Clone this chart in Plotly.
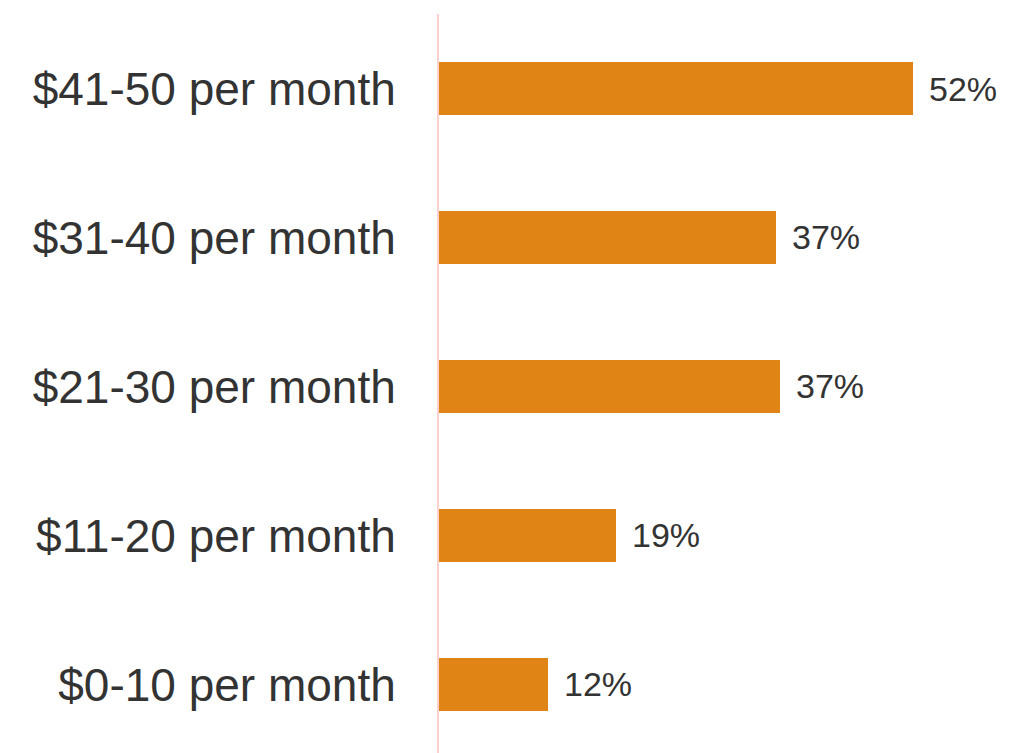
import plotly.graph_objects as go

categories = ["$0-10 per month", "$11-20 per month", "$21-30 per month",
              "$31-40 per month", "$41-50 per month"]
values = [11.9, 19.4, 37.4, 36.9, 52.0]
value_labels = ["12%", "19%", "37%", "37%", "52%"]

bar_color = "#E18416"
text_color = "#333333"

fig = go.Figure()
fig.add_trace(go.Bar(
    x=values,
    y=categories,
    orientation="h",
    marker=dict(color=bar_color, line=dict(width=0)),
    width=0.35,
    hoverinfo="skip",
))

# value labels to the right of each bar
for cat, v, lab in zip(categories, values, value_labels):
    fig.add_annotation(x=v, y=cat, text=lab, showarrow=False,
                       xanchor="left", xshift=14,
                       font=dict(size=34, color=text_color))

# page body has an 8px margin, so the figure is a bit smaller than the window
fig.update_layout(
    width=1004, height=745,
    margin=dict(l=431, r=0, t=6, b=0),
    plot_bgcolor="white", paper_bgcolor="white",
    font=dict(family="Liberation Sans, Arial, sans-serif", color=text_color),
    showlegend=False,
    bargap=0,
)
fig.update_xaxes(range=[0, 62.8], showgrid=False, zeroline=False,
                 showticklabels=False, showline=False, automargin=False)
fig.update_yaxes(range=[-0.46, 4.5], showgrid=False, zeroline=False,
                 automargin=False,
                 showline=True, linecolor="#FFD0D0", linewidth=2,
                 ticklabelstandoff=32,
                 tickfont=dict(size=46, color=text_color))

fig.write_html("out.html")
